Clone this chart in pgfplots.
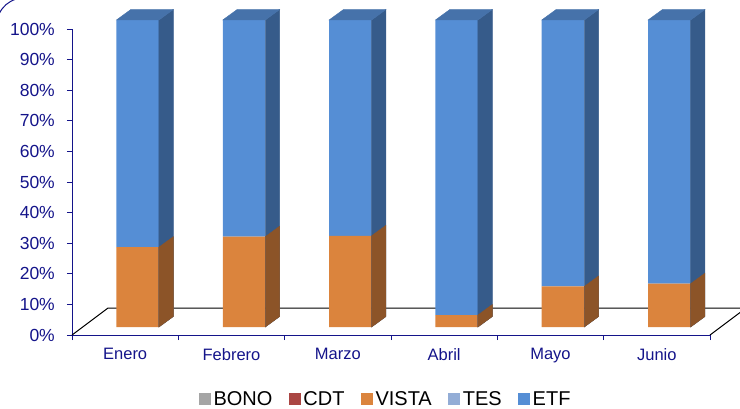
\documentclass[border=0pt]{standalone}
\usepackage{pgfplots}
\pgfplotsset{compat=1.18}
\usepackage{pgfplotstable}
\usepackage{fontspec}
\setmainfont{Liberation Sans}

\definecolor{navy}{HTML}{14148A}
\definecolor{cBONO}{HTML}{A5A5A5}
\definecolor{cCDT}{HTML}{AA4643}
\definecolor{cVISTA}{HTML}{DB843D}
\definecolor{cTES}{HTML}{93ADD6}
\definecolor{cETF}{HTML}{558ED5}
\definecolor{sVISTA}{HTML}{8C5428}
\definecolor{sETF}{HTML}{365B8A}
\definecolor{tETF}{HTML}{4672AA}

\pgfdeclareplotmark{void}{}

\pgfplotstableread{
x bono cdt vista tes etf
0 0 0 26.0 0 74.0
1 0 0 29.4 0 70.6
2 0 0 29.7 0 70.3
3 0 0 3.9 0 96.1
4 0 0 13.2 0 86.8
5 0 0 14.1 0 85.9
}\shares

\pgfplotsset{
  sq legend/.style={legend image code/.code={\fill[##1] (0pt,-6pt) rectangle (12pt,6pt); \path (13pt,0pt);}},
  side3d/.style={
    only marks, scatter, mark=void,
    visualization depends on={rawy \as \ytop},
    scatter/@pre marker code/.code={%
      \pgfmathsetmacro\hh{\ytop*3.07}%
      \fill[#1] (21.25pt,0pt) -- ++(14.4pt,10.5pt) -- ++(0pt,-\hh pt) -- ++(-14.4pt,-10.5pt) -- cycle;
    },
    scatter/@post marker code/.code={},
  },
  top3d/.style={
    scatter/@pre marker code/.append code={%
      \fill[#1] (-21.25pt,0pt) -- (21.25pt,0pt) -- ++(14.4pt,10.5pt) -- ++(-42.5pt,0pt) -- cycle;
    }},
  baraxis/.style={
    at={(84.5pt,81pt)}, anchor=south west, scale only axis,
    width=638pt, height=307pt,
    xmin=-0.5, xmax=5.5, ymin=0, ymax=100,
    hide axis, clip=false},
}

\begin{document}
\begin{tikzpicture}
\useasboundingbox (0pt,0pt) rectangle (740pt,408pt);
\begin{axis}[
  at={(72pt,73pt)}, anchor=south west, scale only axis,
  width=638pt, height=306pt,
  xmin=-0.5, xmax=5.5, ymin=0, ymax=100,
  axis x line*=bottom, axis y line*=left,
  axis line style={draw=navy, line width=0.8pt, -},
  xtick={0,...,5}, xticklabels={Enero,Febrero,Marzo,Abril,Mayo,Junio},
  ytick={0,10,...,100},
  yticklabels={0\%,10\%,20\%,30\%,40\%,50\%,60\%,70\%,80\%,90\%,100\%},
  minor xtick={-0.5,0.5,...,5.5}, minor ytick={0,10,...,100},
  major tick length=0pt, minor tick length=5pt, tick align=outside,
  tick style={draw=navy, line width=0.8pt},
  xticklabel style={font=\fontsize{16.5}{18}\selectfont, text=navy, anchor=north, inner sep=0pt, yshift=-13pt},
  yticklabel style={font=\fontsize{17.5}{19}\selectfont, text=navy, anchor=east, inner sep=0pt, xshift=-17pt},
  clip=false,
]
\draw[black, line width=1pt] (axis cs:-0.5,0) -- ++(36pt,27pt) -- ++(638pt,0pt) -- ++(-36pt,-27pt);
\end{axis}
\begin{axis}[
  baraxis,
  ybar stacked, bar width=42.5pt,
  legend columns=5,
  legend style={at={(0.4718,-0.2345)}, anchor=center, draw=none, fill=none,
    font=\fontsize{20}{22}\selectfont, nodes={inner xsep=1.5pt, inner ysep=0pt},
    /tikz/every even column/.append style={column sep=15pt}},
]
\addplot[fill=cBONO, draw=none, sq legend] table[x=x,y=bono]{\shares};
\addplot[fill=cCDT, draw=none, sq legend] table[x=x,y=cdt]{\shares};
\addplot[fill=cVISTA, draw=none, sq legend] table[x=x,y=vista]{\shares};
\addplot[fill=cTES, draw=none, sq legend] table[x=x,y=tes]{\shares};
\addplot[fill=cETF, draw=none, sq legend] table[x=x,y=etf]{\shares};
\legend{BONO,CDT,VISTA,TES,ETF}
\end{axis}
\begin{axis}[baraxis]
\addplot[side3d={sETF}, top3d={tETF}] table[x=x,y expr=\thisrow{vista}+\thisrow{etf}]{\shares};
\addplot[side3d={sVISTA}] table[x=x,y=vista]{\shares};
\end{axis}
\draw[navy, line width=1pt] (-1pt,394pt) .. controls (3pt,402pt) and (8pt,406pt) .. (16pt,409pt);
\end{tikzpicture}
\end{document}
